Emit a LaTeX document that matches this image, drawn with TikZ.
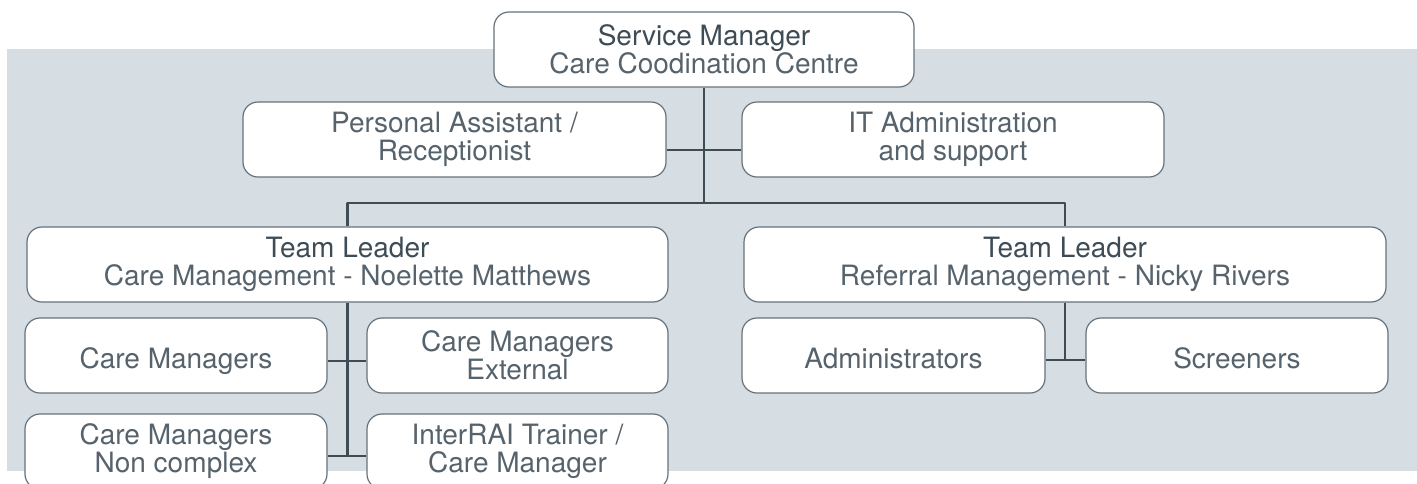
\documentclass[tikz,border=0pt]{standalone}
\usepackage{fontspec}
\setmainfont{TeX Gyre Heros}
\definecolor{slate}{HTML}{3E4C56}
\definecolor{body}{HTML}{56636C}
\definecolor{edge}{HTML}{66727B}
\definecolor{panel}{HTML}{D6DDE3}
\begin{document}
\begin{tikzpicture}[x=0.5pt, y=-0.5pt, line join=round,
	box/.style={draw=edge, line width=0.6pt, fill=white, rounded corners=7.5pt, minimum height=37.5pt, inner sep=0pt, align=center, text=body, font=\fontsize{14}{14}\selectfont},
	single/.style={text height=13.5pt, text depth=1pt},
	link/.style={draw=slate, line width=1.25pt}]
	\clip (0,0) rectangle (1417,483) ;
	\fill[panel] (7,49) rectangle (1417,471) ;
	% top of the chart
	\node[box, minimum width=210pt] (sm) at (704,49.5) {{\color{slate}Service Manager}\\Care Coodination Centre} ;
	\node[box, minimum width=211.5pt] (pa) at (454.5,139.5) {Personal Assistant /\\Receptionist} ;
	\node[box, minimum width=211pt] (it) at (953,139.5) {IT Administration\\and support} ;
	% team leaders
	\node[box, minimum width=320.5pt] (tl1) at (347.5,264.5) {{\color{slate}Team Leader}\\Care Management - Noelette Matthews} ;
	\node[box, minimum width=321pt] (tl2) at (1065,264.5) {{\color{slate}Team Leader}\\Referral Management - Nicky Rivers} ;
	% care management
	\node[box, single, minimum width=151pt] (cm) at (176,355.5) {Care Managers} ;
	\node[box, minimum width=150.5pt] (cme) at (517.5,355.5) {Care Managers\\External} ;
	\node[box, minimum width=151pt] (cmn) at (176,451.5) {Care Managers\\Non complex} ;
	\node[box, minimum width=150.5pt] (irai) at (517.5,451.5) {InterRAI Trainer /\\Care Manager} ;
	% referral management
	\node[box, single, minimum width=151.5pt] (adm) at (893.5,355.5) {Administrators} ;
	\node[box, single, minimum width=151pt] (scr) at (1237,355.5) {Screeners} ;
	% connectors
	\coordinate (j1) at (704,150) ;
	\coordinate (bus) at (704,203) ;
	\coordinate (l1) at (347.5,361) ;
	\coordinate (l2) at (347.5,456) ;
	\coordinate (r1) at (1065,360) ;
	\draw[link] (sm.south) -- (bus) ;
	\draw[link] (pa.east |- j1) -- (it.west |- j1) ;
	\draw[link] (tl1.north) |- (bus) -| (tl2.north) ;
	\draw[link] (tl1.south) -- (l2) ;
	\draw[link] (cm.east |- l1) -- (cme.west |- l1) ;
	\draw[link] (cmn.east |- l2) -- (irai.west |- l2) ;
	\draw[link] (tl2.south) -- (r1) ;
	\draw[link] (adm.east |- r1) -- (scr.west |- r1) ;
\end{tikzpicture}
\end{document}
